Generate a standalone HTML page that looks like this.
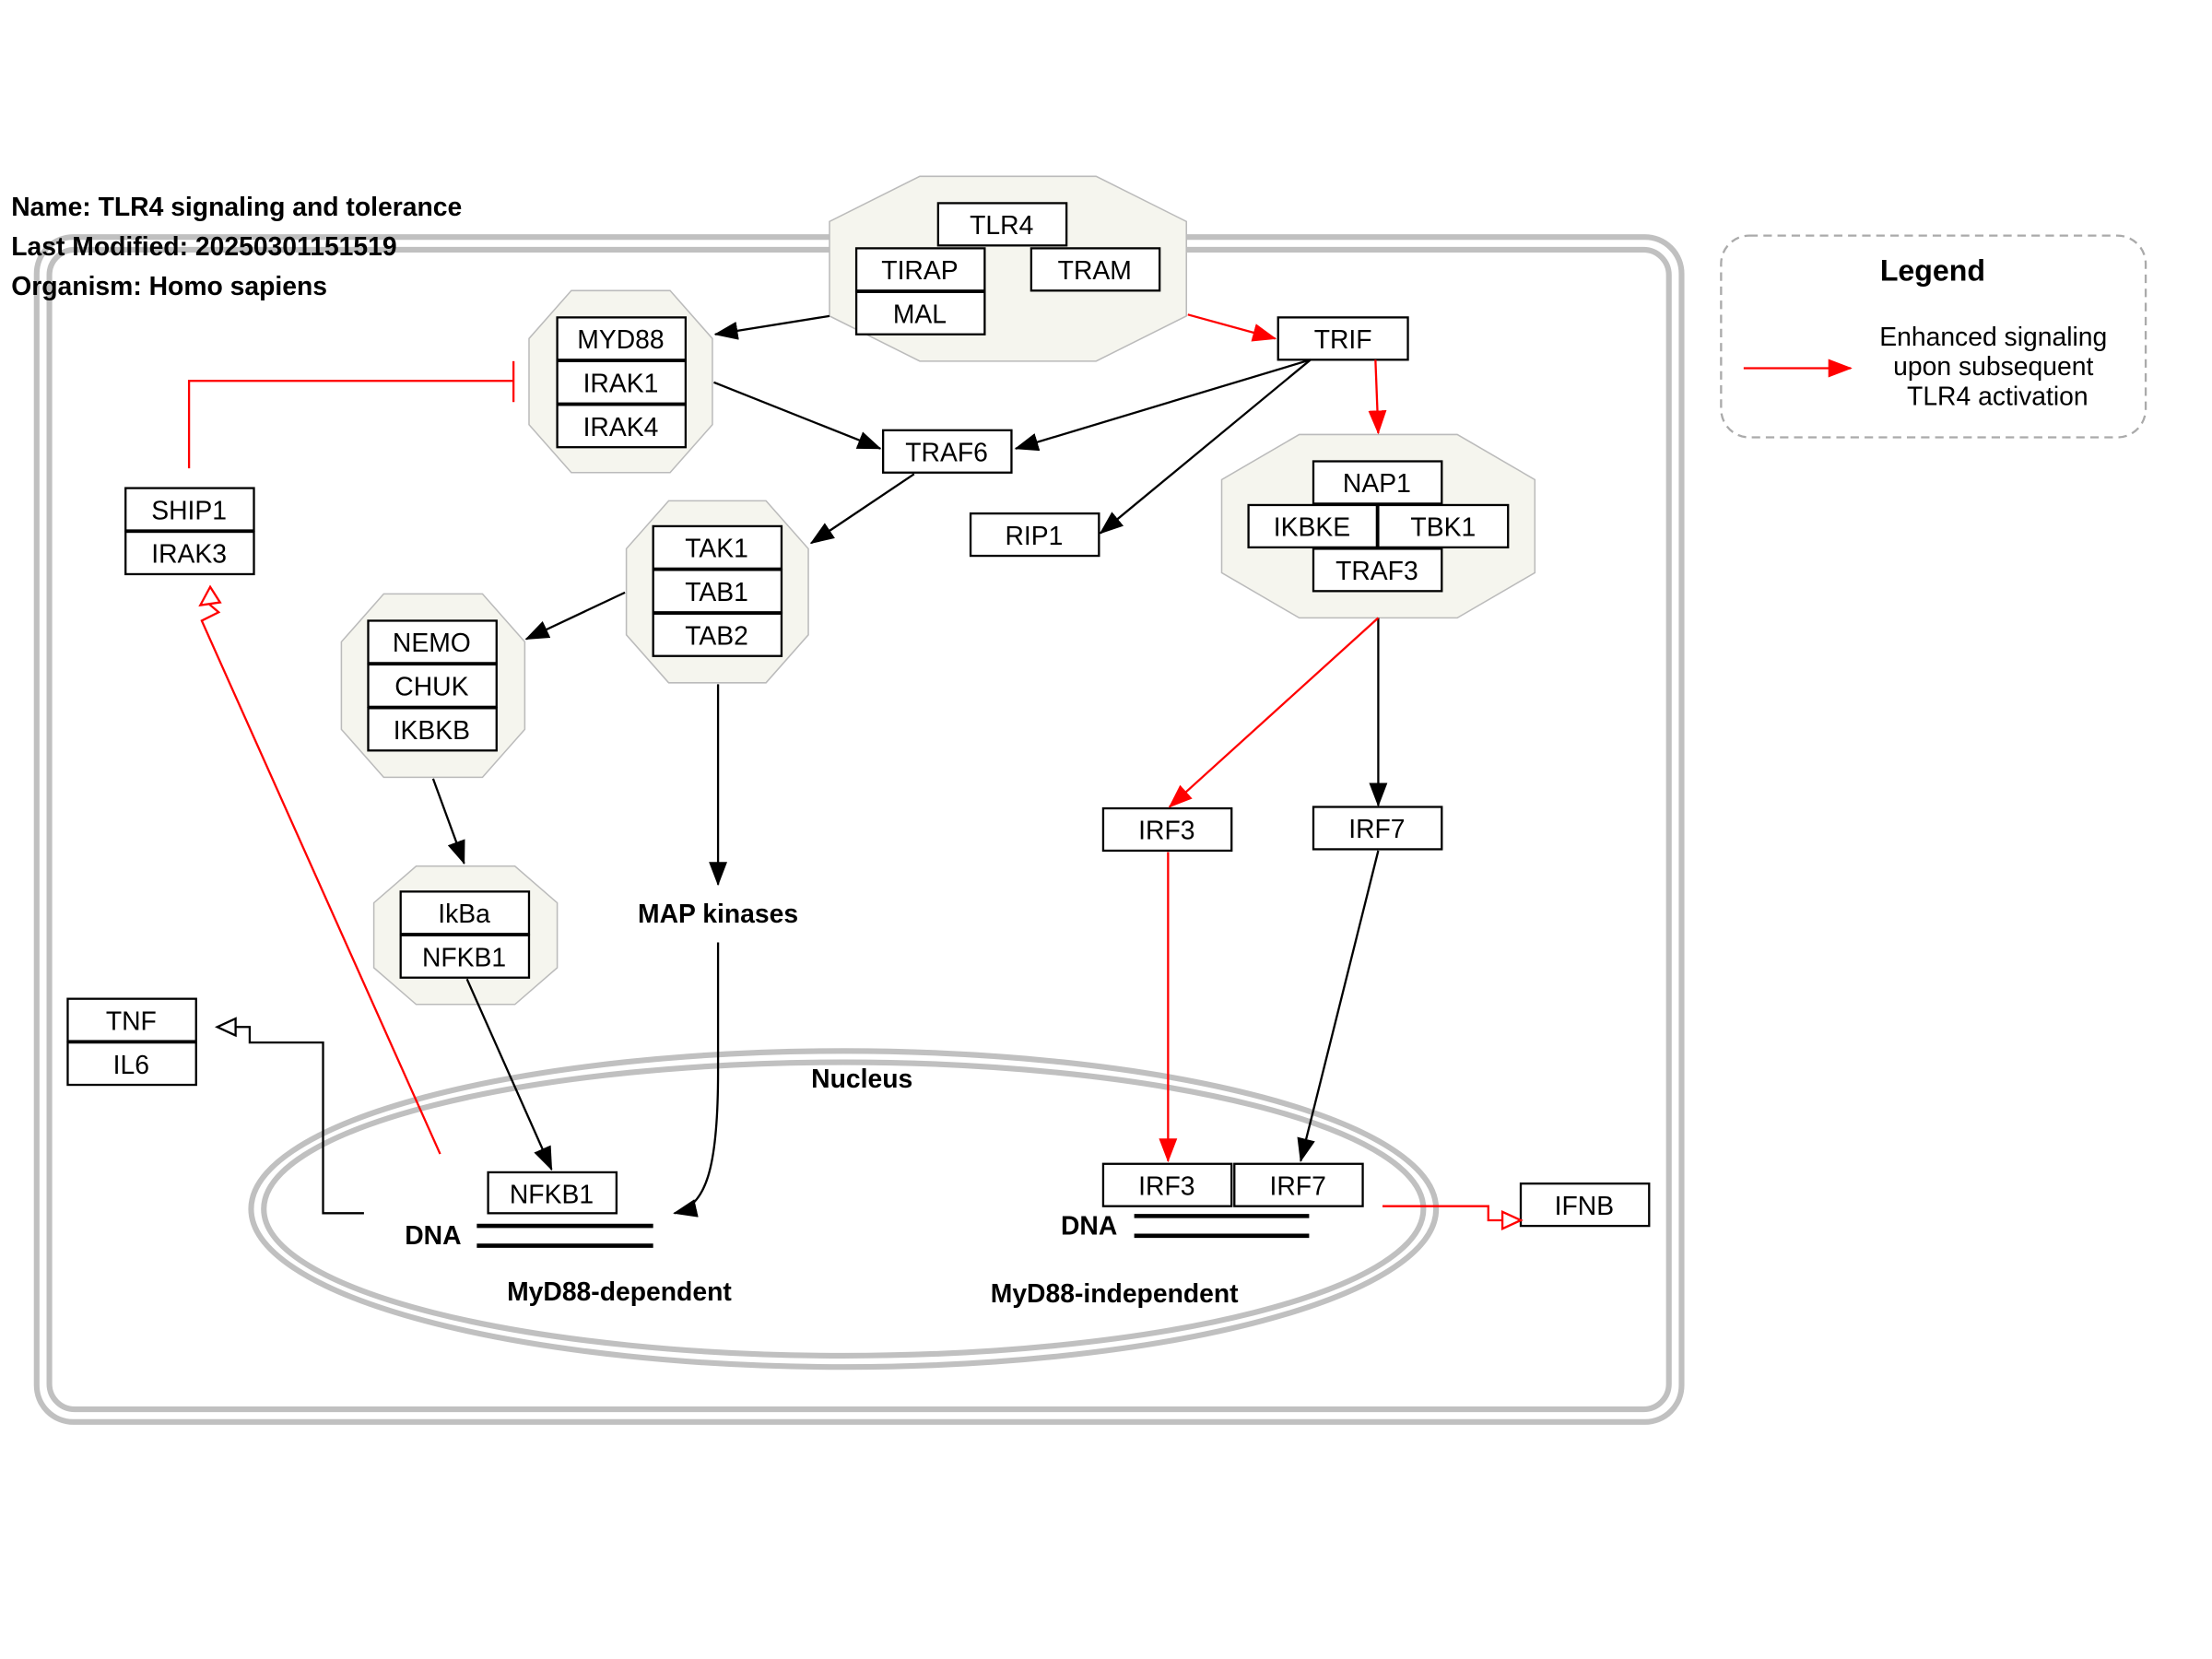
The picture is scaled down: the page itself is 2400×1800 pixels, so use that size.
<!DOCTYPE html>
<html><head><meta charset="utf-8"><style>
html,body{margin:0;padding:0;background:#fff}
svg{display:block}
text{font-family:"Liberation Sans",Arial,sans-serif}
</style></head><body>
<svg width="2400" height="1800" viewBox="0 0 1568 1176" xmlns="http://www.w3.org/2000/svg">
<defs>
<marker id="ab" markerWidth="17" markerHeight="13" refX="16" refY="6.5" orient="auto" markerUnits="userSpaceOnUse" viewBox="0 0 17 13"><path d="M0,0 L17,6.5 L0,13z" fill="#000"/></marker>
<marker id="ar" markerWidth="17" markerHeight="13" refX="16" refY="6.5" orient="auto" markerUnits="userSpaceOnUse" viewBox="0 0 17 13"><path d="M0,0 L17,6.5 L0,13z" fill="#f00"/></marker>
</defs>
<rect width="1568" height="1176" fill="#fff"/>
<rect x="26" y="168" width="1166" height="840" rx="26" fill="none" stroke="#c0c0c0" stroke-width="4"/>
<rect x="35" y="177" width="1148" height="822" rx="18" fill="none" stroke="#c0c0c0" stroke-width="4"/>
<ellipse cx="598" cy="857" rx="420" ry="112" fill="none" stroke="#c0c0c0" stroke-width="4"/>
<ellipse cx="598" cy="857" rx="411" ry="104" fill="none" stroke="#c0c0c0" stroke-width="4"/>
<rect x="1220" y="167" width="301" height="143" rx="20" fill="none" stroke="#aaa" stroke-width="1.5" stroke-dasharray="6,4"/>
<text x="1370" y="199" font-size="21" font-weight="bold" text-anchor="middle">Legend</text>
<line x1="1236" y1="261" x2="1312" y2="261" stroke="#f00" stroke-width="1.5" marker-end="url(#ar)"/>
<g font-size="18.5" text-anchor="middle"><text x="1413" y="245">Enhanced signaling</text><text x="1413" y="266">upon subsequent</text><text x="1416" y="287">TLR4 activation</text></g>
<g font-size="18.5" font-weight="bold"><text x="8" y="153">Name: TLR4 signaling and tolerance</text><text x="8" y="181">Last Modified: 20250301151519</text><text x="8" y="209">Organism: Homo sapiens</text></g>
<g fill="#f5f5ee" stroke="#bbb" stroke-width="1">
<polygon points="652,125 777,125 841,157 841,224 777,256 652,256 588,224 588,157"/>
<polygon points="405,206 475,206 505,240 505,301 475,335 405,335 375,301 375,240"/>
<polygon points="474,355 543,355 573,389 573,450 543,484 474,484 444,450 444,389"/>
<polygon points="272,421 342,421 372,455 372,517 342,551 272,551 242,517 242,455"/>
<polygon points="295,614 365,614 395,640 395,686 365,712 295,712 265,686 265,640"/>
<polygon points="921,308 1033,308 1088,340 1088,406 1033,438 921,438 866,406 866,340"/>
</g>
<g fill="#fff" stroke="#000" stroke-width="1.5">
<rect x="665" y="144" width="91" height="30"/><rect x="607" y="176" width="91" height="30"/><rect x="607" y="207" width="91" height="30"/><rect x="731" y="176" width="91" height="30"/>
<rect x="906" y="225" width="92" height="30"/>
<rect x="395" y="225" width="91" height="30"/><rect x="395" y="256" width="91" height="30"/><rect x="395" y="287" width="91" height="30"/>
<rect x="626" y="305" width="91" height="30"/>
<rect x="89" y="346" width="91" height="30"/><rect x="89" y="377" width="91" height="30"/>
<rect x="463" y="373" width="91" height="30"/><rect x="463" y="404" width="91" height="30"/><rect x="463" y="435" width="91" height="30"/>
<rect x="688" y="364" width="91" height="30"/>
<rect x="931" y="327" width="91" height="30"/><rect x="885" y="358" width="91" height="30"/><rect x="977" y="358" width="92" height="30"/><rect x="931" y="389" width="91" height="30"/>
<rect x="261" y="440" width="91" height="30"/><rect x="261" y="471" width="91" height="30"/><rect x="261" y="502" width="91" height="30"/>
<rect x="284" y="632" width="91" height="30"/><rect x="284" y="663" width="91" height="30"/>
<rect x="48" y="708" width="91" height="30"/><rect x="48" y="739" width="91" height="30"/>
<rect x="782" y="573" width="91" height="30"/><rect x="931" y="572" width="91" height="30"/>
<rect x="346" y="831" width="91" height="29"/>
<rect x="782" y="825" width="91" height="30"/><rect x="875" y="825" width="91" height="30"/>
<rect x="1078" y="839" width="91" height="30"/>
</g>
<g font-size="18.5" text-anchor="middle">
<text x="710" y="166">TLR4</text><text x="652" y="198">TIRAP</text><text x="652" y="229">MAL</text><text x="776" y="198">TRAM</text>
<text x="952" y="247">TRIF</text>
<text x="440" y="247">MYD88</text><text x="440" y="278">IRAK1</text><text x="440" y="309">IRAK4</text>
<text x="671" y="327">TRAF6</text>
<text x="134" y="368">SHIP1</text><text x="134" y="399">IRAK3</text>
<text x="508" y="395">TAK1</text><text x="508" y="426">TAB1</text><text x="508" y="457">TAB2</text>
<text x="733" y="386">RIP1</text>
<text x="976" y="349">NAP1</text><text x="930" y="380">IKBKE</text><text x="1023" y="380">TBK1</text><text x="976" y="411">TRAF3</text>
<text x="306" y="462">NEMO</text><text x="306" y="493">CHUK</text><text x="306" y="524">IKBKB</text>
<text x="329" y="654">IkBa</text><text x="329" y="685">NFKB1</text>
<text x="93" y="730">TNF</text><text x="93" y="761">IL6</text>
<text x="827" y="595">IRF3</text><text x="976" y="594">IRF7</text>
<text x="391" y="853">NFKB1</text>
<text x="827" y="847">IRF3</text><text x="920" y="847">IRF7</text>
<text x="1123" y="861">IFNB</text>
</g>
<g font-size="18.5" font-weight="bold" text-anchor="middle">
<text x="509" y="654">MAP kinases</text><text x="611" y="771">Nucleus</text>
<text x="307" y="882">DNA</text><text x="772" y="875">DNA</text>
<text x="439" y="922">MyD88-dependent</text><text x="790" y="923">MyD88-independent</text>
</g>
<g stroke="#000" stroke-width="3"><line x1="338" y1="869" x2="463" y2="869"/><line x1="338" y1="883" x2="463" y2="883"/><line x1="804" y1="862" x2="928" y2="862"/><line x1="804" y1="876" x2="928" y2="876"/></g>
<g stroke="#000" stroke-width="1.5" fill="none" marker-end="url(#ab)">
<line x1="588" y1="224" x2="507" y2="237"/>
<line x1="506" y1="271" x2="624" y2="318"/>
<line x1="929" y1="255" x2="720" y2="318"/>
<line x1="929" y1="255" x2="780" y2="378"/>
<line x1="648" y1="336" x2="575" y2="385"/>
<line x1="443" y1="420" x2="373" y2="453"/>
<line x1="509" y1="485" x2="509" y2="627"/>
<line x1="307" y1="552" x2="329" y2="612"/>
<line x1="331" y1="694" x2="391" y2="829"/>
<path d="M509,668 L509,760 C509,830 500,855 478,860"/>
<line x1="977" y1="438" x2="977" y2="571"/>
<line x1="977" y1="603" x2="922" y2="823"/>
</g>
<g stroke="#f00" stroke-width="1.5" fill="none" marker-end="url(#ar)">
<line x1="842" y1="223" x2="904" y2="240"/>
<line x1="975" y1="255" x2="977" y2="307"/>
<line x1="977" y1="438" x2="829" y2="572"/>
<line x1="828" y1="604" x2="828" y2="823"/>
</g>
<path d="M134,332 V270 H364" stroke="#f00" stroke-width="1.5" fill="none"/>
<line x1="364" y1="256" x2="364" y2="285" stroke="#f00" stroke-width="1.5"/>
<path d="M312,818 L143,440 L155,434 L148,428" stroke="#f00" stroke-width="1.5" fill="none"/>
<polygon points="149,416 142,429 156,427" fill="#fff" stroke="#f00" stroke-width="1.5"/>
<path d="M258,860 H229 V739 H177 V728 H167" stroke="#000" stroke-width="1.5" fill="none"/>
<polygon points="154,728 167,722 167,734" fill="#fff" stroke="#000" stroke-width="1.5"/>
<path d="M980,855 H1055 V865 H1065" stroke="#f00" stroke-width="1.5" fill="none"/>
<polygon points="1078,865 1065,859 1065,871" fill="#fff" stroke="#f00" stroke-width="1.5"/>
</svg>
</body></html>
